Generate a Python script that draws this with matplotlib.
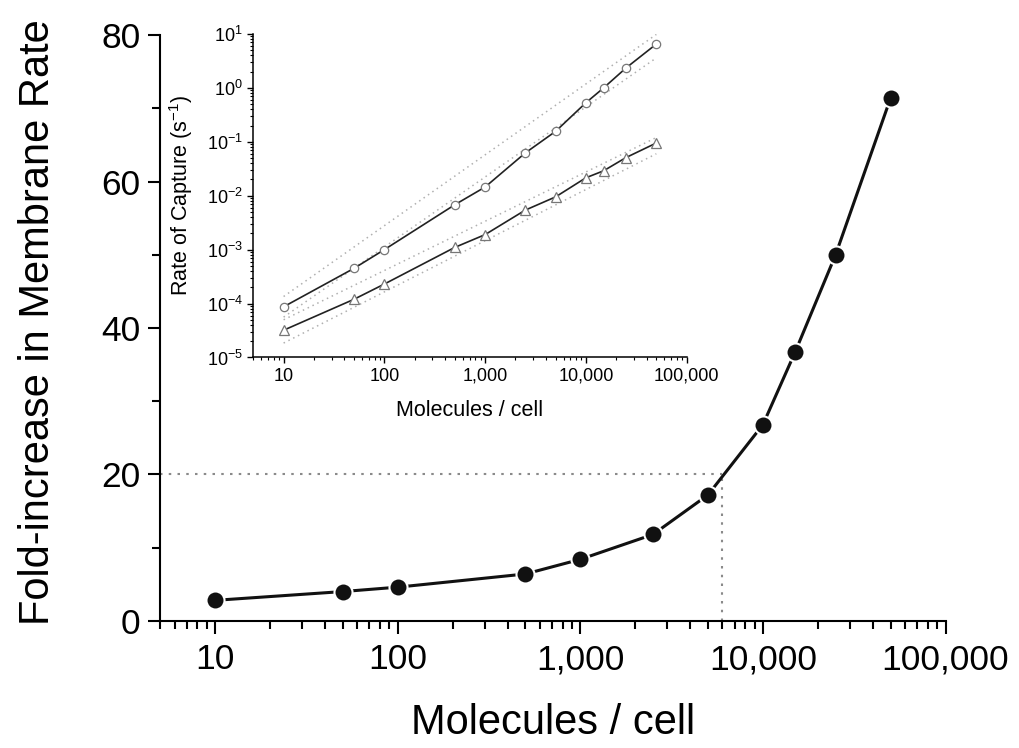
import numpy as np
import matplotlib
matplotlib.use('Agg')
import matplotlib.pyplot as plt
from matplotlib.ticker import FuncFormatter, LogLocator, MultipleLocator, NullFormatter

plt.rcParams['font.family'] = ['Liberation Sans', 'DejaVu Sans']
plt.rcParams['mathtext.default'] = 'regular'

# ---------------------------
# DATA
# ---------------------------
molecules = [10, 50, 100, 500, 1000, 2500, 5000, 10000, 15000, 25000, 50000]
fold_increase = [2.8, 4.0, 4.6, 6.4, 8.4, 11.8, 17.2, 26.8, 36.7, 50.0, 71.4]

# inset: rate of capture (s^-1)
rate_circles = [8.7e-5, 4.5e-4, 1.0e-3, 6.8e-3, 1.45e-2, 6.2e-2, 0.156, 0.53, 1.0, 2.34, 6.5]
rate_triangles = [3.2e-5, 1.2e-4, 2.3e-4, 1.1e-3, 1.9e-3, 5.4e-3, 9.5e-3, 2.15e-2, 2.9e-2, 5.1e-2, 9.5e-2]

# dotted bands around each inset series (end points)
band_x = [10, 50000]
circles_upper = [1.35e-4, 9.8]
circles_lower = [5.6e-5, 3.6]
triangles_upper = [5.0e-5, 0.12]
triangles_lower = [1.85e-5, 0.06]

# dotted guide at 20-fold
cutoff_molecules = 6000
cutoff_fold = 20

x_min, x_max = 5, 100000

def comma_fmt(v, pos):
    return f'{int(round(v)):,}'

# ---------------------------
# MAIN PLOT
# ---------------------------
fig = plt.figure(figsize=(10.2, 7.48), dpi=100)
ax = fig.add_axes([0.157, 0.170, 0.770, 0.783])

ax.hlines(cutoff_fold, x_min, cutoff_molecules, colors='#8a8a8a',
          linestyles=(0, (1.2, 3)), lw=1.5)
ax.vlines(cutoff_molecules, 0, cutoff_fold, colors='#8a8a8a',
          linestyles=(0, (1.2, 3)), lw=1.5)
ax.plot(molecules, fold_increase, '-o', color='#111111', lw=2.2, ms=13,
        mfc='#111111', mec='white', mew=1.5, zorder=3)

ax.set_xscale('log')
ax.set_xlim(x_min, x_max)
ax.set_ylim(0, 80)
ax.xaxis.set_major_locator(LogLocator(base=10))
ax.xaxis.set_minor_locator(LogLocator(base=10, subs=np.arange(2, 10)))
ax.xaxis.set_major_formatter(FuncFormatter(comma_fmt))
ax.xaxis.set_minor_formatter(NullFormatter())
ax.yaxis.set_major_locator(MultipleLocator(20))
ax.yaxis.set_minor_locator(MultipleLocator(10))

for s in ['top', 'right']:
    ax.spines[s].set_visible(False)
for s in ['left', 'bottom']:
    ax.spines[s].set_linewidth(1.5)

ax.tick_params(which='major', direction='out', length=9, width=1.5, labelsize=25.5)
ax.tick_params(axis='y', which='major', pad=5)
ax.tick_params(axis='x', which='major', pad=7)
ax.tick_params(which='minor', direction='out', length=5.5, width=1.5)

ax.set_xlabel('Molecules / cell', fontsize=30)
ax.set_ylabel('Fold-increase in Membrane Rate', fontsize=30)
ax.xaxis.set_label_coords(0.5, -0.14)
ax.yaxis.set_label_coords(-0.13, 0.51)

# ---------------------------
# INSET
# ---------------------------
axin = fig.add_axes([0.2483, 0.5221, 0.4249, 0.4325])

band_kw = dict(color='#b0b0b0', ls=(0, (1, 2.5)), lw=1.1)
axin.plot(band_x, circles_upper, **band_kw)
axin.plot(band_x, circles_lower, **band_kw)
axin.plot(band_x, triangles_upper, **band_kw)
axin.plot(band_x, triangles_lower, **band_kw)

axin.plot(molecules, rate_circles, '-o', color='#222222', lw=1.2, ms=6,
          mfc='white', mec='#777777', mew=0.9)
axin.plot(molecules, rate_triangles, '-^', color='#222222', lw=1.2, ms=7,
          mfc='white', mec='#777777', mew=0.9)

axin.set_xscale('log')
axin.set_yscale('log')
axin.set_xlim(x_min, x_max)
axin.set_ylim(1e-5, 10)
axin.xaxis.set_major_locator(LogLocator(base=10))
axin.xaxis.set_minor_locator(LogLocator(base=10, subs=np.arange(2, 10)))
axin.xaxis.set_major_formatter(FuncFormatter(comma_fmt))
axin.xaxis.set_minor_formatter(NullFormatter())
axin.yaxis.set_major_locator(LogLocator(base=10, numticks=10))
axin.yaxis.set_minor_locator(LogLocator(base=10, subs=np.arange(2, 10), numticks=10))
axin.yaxis.set_minor_formatter(NullFormatter())

for s in ['top', 'right']:
    axin.spines[s].set_visible(False)
for s in ['left', 'bottom']:
    axin.spines[s].set_linewidth(1.1)

axin.tick_params(which='major', direction='out', length=4.5, width=1.0, labelsize=13, pad=3)
axin.tick_params(which='minor', direction='out', length=2.5, width=0.8)

axin.set_xlabel('Molecules / cell', fontsize=15.5)
axin.set_ylabel('Rate of Capture (s$^{-1}$)', fontsize=15.5)
axin.xaxis.set_label_coords(0.5, -0.13)
axin.yaxis.set_label_coords(-0.135, 0.5)

fig.savefig('out.png', dpi=100)
